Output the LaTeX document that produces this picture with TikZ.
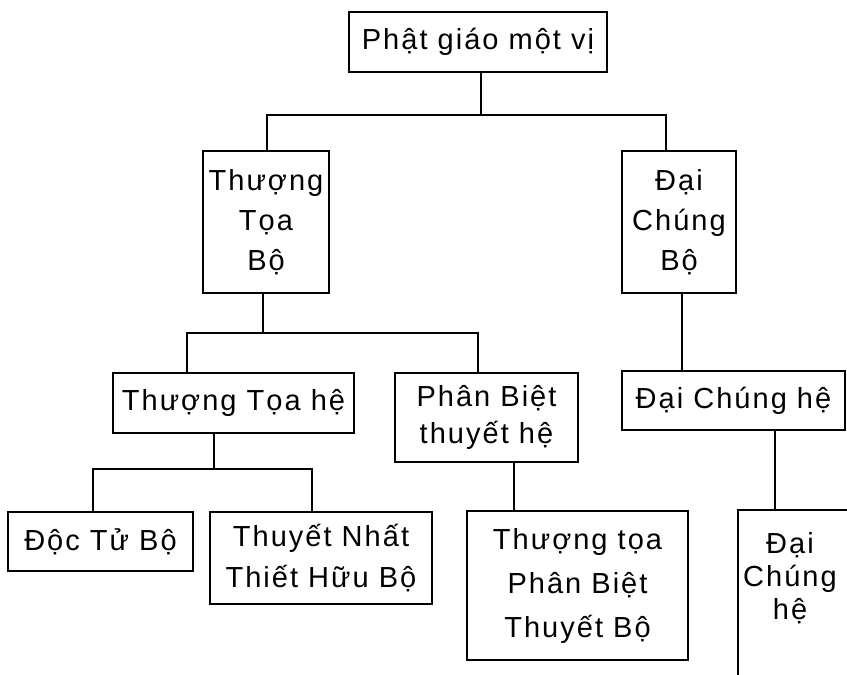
\documentclass[tikz,border=0pt]{standalone}
\usepackage{fontspec}
\setmainfont{Liberation Sans}[LetterSpace=7]
\begin{document}
\begin{tikzpicture}[x=1pt,y=-1pt,
  box/.style={draw,line width=1.7pt,inner sep=0pt,align=center,font=\fontsize{29}{40}\selectfont},
  lbl/.style={inner sep=0pt,align=center},
  conn/.style={line width=1.7pt,line join=miter}]
\useasboundingbox (0,0) rectangle (847,675);
\clip (0,0) rectangle (847,675);
\fill[white] (0,0) rectangle (847,675);

\node[box,minimum width=258,minimum height=60] (top) at (478,42) {Phật giáo một vị};
\node[box,minimum width=126,minimum height=142] (ttb) at (266,222) {Thượng\\Tọa\\Bộ};
\node[box,minimum width=114,minimum height=142] (dcb) at (679,222) {Đại\\Chúng\\Bộ};
\node[box,minimum width=241,minimum height=60] (tth) at (233.5,403) {Thượng Tọa hệ};
\node[box,minimum width=183,minimum height=89,font=\fontsize{29}{37}\selectfont] (pbt) at (486.5,417.5) {Phân Biệt\\thuyết hệ};
\node[box,minimum width=223,minimum height=59] (dch) at (733.5,400.5) {Đại Chúng hệ};
\node[box,minimum width=185,minimum height=59] (dtb) at (100.5,541.5) {Độc Tử Bộ};
\node[box,minimum width=222,minimum height=92,font=\fontsize{29}{41}\selectfont] (tnt) at (321,558) {Thuyết Nhất\\Thiết Hữu Bộ};
\node[box,minimum width=221,minimum height=149,font=\fontsize{29}{44}\selectfont] (tpb) at (577.5,585.5) {Thượng tọa\\Phân Biệt\\Thuyết Bộ};
\node[box,minimum width=170,minimum height=220,anchor=north west] (dch2) at (737,509) {};
\node[lbl,font=\fontsize{29}{33}\selectfont] (dch2t) at (790,578) {Đại\\Chúng\\hệ};

\coordinate (a1) at (481,115);
\coordinate (a2) at (267,115);
\coordinate (a3) at (666,115);
\draw[conn] (top.south -| a1) -- (a1);
\draw[conn] (ttb.north -| a2) -- (a2) -- (a3) -- (dcb.north -| a3);

\coordinate (b1) at (263,333);
\coordinate (b2) at (187,333);
\coordinate (b3) at (478,333);
\draw[conn] (ttb.south -| b1) -- (b1);
\draw[conn] (tth.north -| b2) -- (b2) -- (b3) -- (pbt.north -| b3);

\coordinate (c1) at (682,330);
\draw[conn] (dcb.south -| c1) -- (dch.north -| c1);

\coordinate (d1) at (214,469);
\coordinate (d2) at (93,469);
\coordinate (d3) at (312,469);
\draw[conn] (tth.south -| d1) -- (d1);
\draw[conn] (dtb.north -| d2) -- (d2) -- (d3) -- (tnt.north -| d3);

\coordinate (e1) at (514,490);
\draw[conn] (pbt.south -| e1) -- (tpb.north -| e1);

\coordinate (f1) at (775,470);
\draw[conn] (dch.south -| f1) -- (dch2.north -| f1);
\end{tikzpicture}
\end{document}
